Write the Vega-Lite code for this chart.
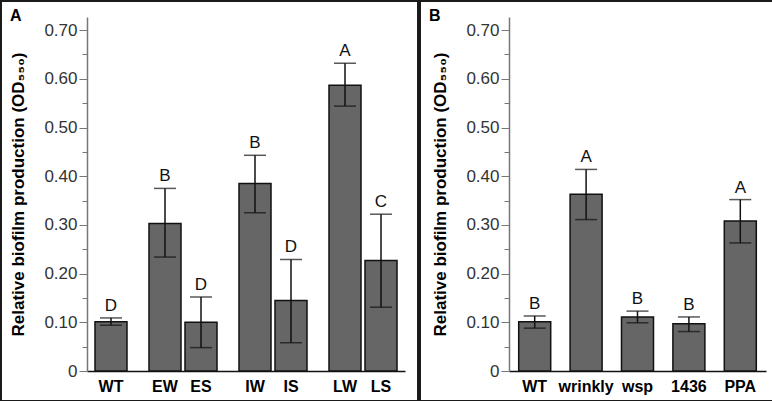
{
  "$schema": "https://vega.github.io/schema/vega-lite/v6.json",
  "padding": 0,
  "spacing": 0,
  "config": {
    "font": "Liberation Sans",
    "view": {"stroke": "#1a1a1a", "strokeWidth": 2},
    "axis": {"labelFont": "Liberation Sans", "titleFont": "Liberation Sans", "grid": false},
    "title": {"font": "Liberation Sans"}
  },
  "datasets": {
    "a": [
      {"strain": "WT", "mean": 0.101, "lo": 0.094, "hi": 0.109, "sig": "D"},
      {"strain": "EW", "mean": 0.303, "lo": 0.234, "hi": 0.375, "sig": "B"},
      {"strain": "ES", "mean": 0.100, "lo": 0.048, "hi": 0.152, "sig": "D"},
      {"strain": "IW", "mean": 0.385, "lo": 0.325, "hi": 0.443, "sig": "B"},
      {"strain": "IS", "mean": 0.145, "lo": 0.058, "hi": 0.229, "sig": "D"},
      {"strain": "LW", "mean": 0.587, "lo": 0.544, "hi": 0.632, "sig": "A"},
      {"strain": "LS", "mean": 0.227, "lo": 0.131, "hi": 0.322, "sig": "C"}
    ],
    "b": [
      {"strain": "WT", "mean": 0.101, "lo": 0.088, "hi": 0.113, "sig": "B"},
      {"strain": "wrinkly", "mean": 0.363, "lo": 0.311, "hi": 0.414, "sig": "A"},
      {"strain": "wsp", "mean": 0.111, "lo": 0.099, "hi": 0.123, "sig": "B"},
      {"strain": "1436", "mean": 0.097, "lo": 0.081, "hi": 0.111, "sig": "B"},
      {"strain": "PPA", "mean": 0.308, "lo": 0.263, "hi": 0.352, "sig": "A"}
    ]
  },
  "hconcat": [
    {
      "width": 417,
      "height": 400,
      "data": {"name": "a"},
      "title": {"text": "A", "anchor": "start", "frame": "group", "offset": -23, "dx": 9, "fontSize": 16, "fontWeight": "bold", "color": "#000"},
      "encoding": {
        "x": {
          "field": "strain", "type": "nominal", "sort": null,
          "scale": {"domain": ["WT", " ", "  ", "EW", "   ", "ES", "    ", "     ", "IW", "      ", "IS", "       ", "        ", "LW", "         ", "LS"], "range": [86, 404], "paddingInner": 0, "paddingOuter": 0.833},
          "axis": {"title": null, "orient": "bottom", "offset": -30, "ticks": false, "labelAngle": 0, "labelFontSize": 16, "labelFontWeight": "bold", "labelColor": "#000", "labelPadding": 7, "domainColor": "#111", "domainWidth": 1.5}
        }
      },
      "layer": [
        {
          "mark": {"type": "bar", "width": 32, "fill": "#666666", "stroke": "#111", "strokeWidth": 1.5},
          "encoding": {
            "y": {"field": "mean", "type": "quantitative",
              "scale": {"domain": [0, 0.727], "range": [370, 16], "nice": false, "zero": true},
              "axis": {"orient": "left", "offset": -86, "values": [0, 0.1, 0.2, 0.3, 0.4, 0.5, 0.6, 0.7], "labelExpr": "datum.value == 0 ? '0' : format(datum.value, '.2f')", "labelFontSize": 17, "labelColor": "#333", "labelPadding": 2, "tickSize": 8, "tickColor": "#777", "domainColor": "#777", "domainWidth": 1.5, "title": "Relative biofilm production (OD₅₅₀)", "titleFontSize": 17, "titleFontWeight": "bold", "titleColor": "#000", "titlePadding": 16}
            }
          }
        },
        {
          "mark": {"type": "rule", "stroke": "#111", "strokeWidth": 1.5},
          "encoding": {
            "y": {"field": "lo", "type": "quantitative",
              "scale": {"domain": [0, 0.727], "range": [370, 16], "nice": false, "zero": true},
              "axis": {"orient": "left", "offset": -86, "values": [0.05, 0.15, 0.25, 0.35, 0.45, 0.55, 0.65], "labels": false, "domain": false, "tickSize": 5, "tickColor": "#777", "title": null}
            },
            "y2": {"field": "hi"}
          }
        },
        {
          "mark": {"type": "tick", "size": 22, "thickness": 1.5, "color": "#111", "orient": "horizontal"},
          "encoding": {"y": {"field": "lo", "type": "quantitative", "scale": {"domain": [0, 0.727], "range": [370, 16], "nice": false, "zero": true}, "axis": null}}
        },
        {
          "mark": {"type": "tick", "size": 22, "thickness": 1.5, "color": "#111", "orient": "horizontal"},
          "encoding": {"y": {"field": "hi", "type": "quantitative", "scale": {"domain": [0, 0.727], "range": [370, 16], "nice": false, "zero": true}, "axis": null}}
        },
        {
          "mark": {"type": "text", "fontSize": 17, "dy": -7, "baseline": "alphabetic", "color": "#111"},
          "encoding": {
            "y": {"field": "hi", "type": "quantitative", "scale": {"domain": [0, 0.727], "range": [370, 16], "nice": false, "zero": true}, "axis": null},
            "text": {"field": "sig"}
          }
        }
      ],
      "resolve": {"axis": {"y": "independent"}}
    },
    {
      "width": 355,
      "height": 400,
      "data": {"name": "b"},
      "title": {"text": "B", "anchor": "start", "frame": "group", "offset": -23, "dx": 9, "fontSize": 16, "fontWeight": "bold", "color": "#000"},
      "encoding": {
        "x": {
          "field": "strain", "type": "nominal", "sort": null,
          "scale": {"domain": ["WT", "wrinkly", "wsp", "1436", "PPA"], "range": [89, 346], "paddingInner": 0, "paddingOuter": 0},
          "axis": {"title": null, "orient": "bottom", "offset": -30, "ticks": false, "labelAngle": 0, "labelFontSize": 16, "labelFontWeight": "bold", "labelColor": "#000", "labelPadding": 7, "domainColor": "#111", "domainWidth": 1.5}
        }
      },
      "layer": [
        {
          "mark": {"type": "bar", "width": 32, "fill": "#666666", "stroke": "#111", "strokeWidth": 1.5},
          "encoding": {
            "y": {"field": "mean", "type": "quantitative",
              "scale": {"domain": [0, 0.727], "range": [370, 16], "nice": false, "zero": true},
              "axis": {"orient": "left", "offset": -89, "values": [0, 0.1, 0.2, 0.3, 0.4, 0.5, 0.6, 0.7], "labelExpr": "datum.value == 0 ? '0' : format(datum.value, '.2f')", "labelFontSize": 17, "labelColor": "#333", "labelPadding": 2, "tickSize": 8, "tickColor": "#777", "domainColor": "#777", "domainWidth": 1.5, "title": "Relative biofilm production (OD₅₅₀)", "titleFontSize": 17, "titleFontWeight": "bold", "titleColor": "#000", "titlePadding": 16}
            }
          }
        },
        {
          "mark": {"type": "rule", "stroke": "#111", "strokeWidth": 1.5},
          "encoding": {
            "y": {"field": "lo", "type": "quantitative",
              "scale": {"domain": [0, 0.727], "range": [370, 16], "nice": false, "zero": true},
              "axis": {"orient": "left", "offset": -89, "values": [0.05, 0.15, 0.25, 0.35, 0.45, 0.55, 0.65], "labels": false, "domain": false, "tickSize": 5, "tickColor": "#777", "title": null}
            },
            "y2": {"field": "hi"}
          }
        },
        {
          "mark": {"type": "tick", "size": 22, "thickness": 1.5, "color": "#111", "orient": "horizontal"},
          "encoding": {"y": {"field": "lo", "type": "quantitative", "scale": {"domain": [0, 0.727], "range": [370, 16], "nice": false, "zero": true}, "axis": null}}
        },
        {
          "mark": {"type": "tick", "size": 22, "thickness": 1.5, "color": "#111", "orient": "horizontal"},
          "encoding": {"y": {"field": "hi", "type": "quantitative", "scale": {"domain": [0, 0.727], "range": [370, 16], "nice": false, "zero": true}, "axis": null}}
        },
        {
          "mark": {"type": "text", "fontSize": 17, "dy": -7, "baseline": "alphabetic", "color": "#111"},
          "encoding": {
            "y": {"field": "hi", "type": "quantitative", "scale": {"domain": [0, 0.727], "range": [370, 16], "nice": false, "zero": true}, "axis": null},
            "text": {"field": "sig"}
          }
        }
      ],
      "resolve": {"axis": {"y": "independent"}}
    }
  ]
}
